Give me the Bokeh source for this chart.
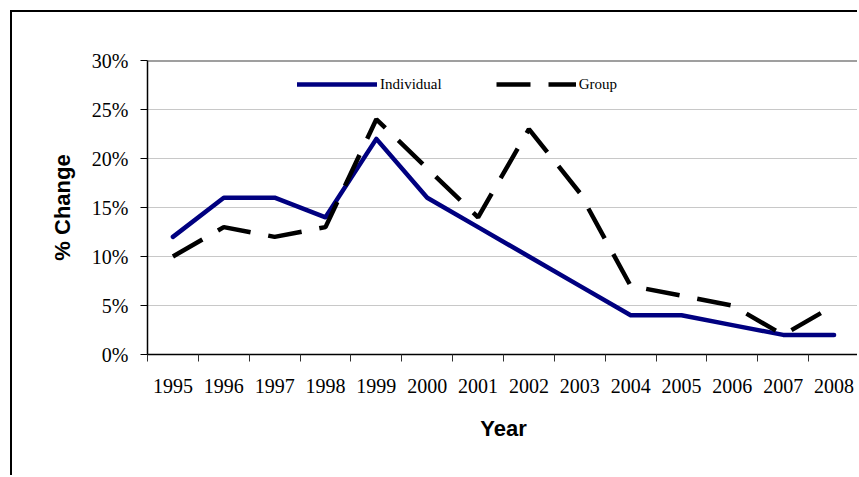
from bokeh.plotting import figure
from bokeh.models import (FixedTicker, Span, Legend, LegendItem,
                          NumeralTickFormatter, Range1d)
from bokeh.embed import file_html
from bokeh.resources import INLINE

years = [1995, 1996, 1997, 1998, 1999, 2000, 2001, 2002, 2003, 2004, 2005, 2006, 2007, 2008]
individual = [0.12, 0.16, 0.16, 0.14, 0.22, 0.16, 0.13, 0.10, 0.07, 0.04, 0.04, 0.03, 0.02, 0.02]
group = [0.10, 0.13, 0.12, 0.13, 0.24, 0.19, 0.14, 0.23, 0.165, 0.07, 0.06, 0.05, 0.02, 0.05]
y_ticks = [0.0, 0.05, 0.10, 0.15, 0.20, 0.25, 0.30]

OFF = 12
p = figure(width=859 - OFF, height=477 - OFF, output_backend="svg", toolbar_location=None,
           x_range=Range1d(years[0] - 0.5, years[-1] + 0.5), y_range=Range1d(0, 0.30),
           min_border_left=147 - OFF, min_border_right=0, min_border_top=60 - OFF,
           min_border_bottom=123)
p.styles = {"border-left": "2px solid black", "border-top": "2px solid black",
            "margin-left": "10px", "margin-top": "10px"}
p.outline_line_color = None
p.background_fill_color = "white"
p.border_fill_color = "white"

# axes
xt = FixedTicker(ticks=years, minor_ticks=[y - 0.5 for y in years] + [years[-1] + 0.5])
p.xaxis.ticker = xt
p.xaxis.major_label_overrides = {y: str(y) for y in years}
p.xaxis.major_tick_line_color = None
p.xaxis.minor_tick_line_color = "#303030"
p.xaxis.minor_tick_out = 7
p.xaxis.minor_tick_in = 0
p.xaxis.axis_line_color = "black"
p.xaxis.axis_line_width = 1.5
p.xaxis.major_label_text_font = "Liberation Serif"
p.xaxis.major_label_text_font_size = "20px"
p.xaxis.major_label_text_color = "black"
p.xaxis.major_label_standoff = 17
p.xaxis.axis_label = "Year"
p.xaxis.axis_label_text_font = "Liberation Sans"
p.xaxis.axis_label_text_font_style = "bold"
p.xaxis.axis_label_text_font_size = "22px"
p.xaxis.axis_label_text_color = "black"
p.xaxis.axis_label_standoff = 20

p.yaxis.ticker = FixedTicker(ticks=y_ticks)
p.yaxis.formatter = NumeralTickFormatter(format="0%")
p.yaxis.minor_tick_line_color = None
p.yaxis.major_tick_out = 7
p.yaxis.major_tick_in = 0
p.yaxis.major_tick_line_color = "black"
p.yaxis.axis_line_color = "black"
p.yaxis.axis_line_width = 1.5
p.yaxis.major_label_text_font = "Liberation Serif"
p.yaxis.major_label_text_font_size = "20px"
p.yaxis.major_label_text_color = "black"
p.yaxis.major_label_standoff = 12
p.yaxis.axis_label = "% Change"
p.yaxis.axis_label_text_font = "Liberation Sans"
p.yaxis.axis_label_text_font_style = "bold"
p.yaxis.axis_label_text_font_size = "22px"
p.yaxis.axis_label_text_color = "black"
p.yaxis.axis_label_standoff = 14

p.xgrid.grid_line_color = None
p.ygrid.ticker = FixedTicker(ticks=y_ticks[1:-1])
p.ygrid.grid_line_color = "#c8c8c8"
p.ygrid.grid_line_width = 1.2

p.add_layout(Span(location=y_ticks[-1], dimension="width", line_color="#404040", line_width=2))

r1 = p.line(years, individual, line_color="#000080", line_width=4.5, line_cap="round", line_join="round")
r2 = p.line(years, group, line_color="black", line_width=4.5, line_dash="34 18")

legend = Legend(items=[LegendItem(label="Individual", renderers=[r1]),
                       LegendItem(label="Group", renderers=[r2])],
                orientation="horizontal", location=(150, 260),
                glyph_width=80, glyph_height=20, label_height=20, label_standoff=3,
                spacing=54, padding=0, margin=0,
                border_line_color=None, background_fill_alpha=0,
                label_text_font="Liberation Serif", label_text_font_size="15px",
                label_text_color="black")
p.add_layout(legend, "center")

open("out.html", "w").write(file_html(p, INLINE))
